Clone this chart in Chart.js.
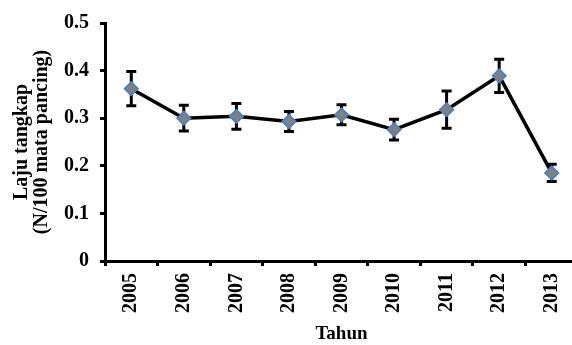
<!DOCTYPE html>
<html>
<head>
<meta charset="utf-8">
<script src="https://cdn.jsdelivr.net/npm/chart.js@4"></script>
<style>
    body { margin: 0; overflow: hidden; background: #fff; }
</style>
</head>
<body>
<canvas id="myChart" width="590" height="345"></canvas>
<script>
const years = ["2005", "2006", "2007", "2008", "2009", "2010", "2011", "2012", "2013"];
const lajuTangkap = [0.362, 0.300, 0.304, 0.293, 0.307, 0.276, 0.318, 0.389, 0.185];
const errorValues = [0.036, 0.027, 0.027, 0.021, 0.021, 0.022, 0.039, 0.035, 0.018];
const yTicks = [0, 0.1, 0.2, 0.3, 0.4, 0.5];

const fontFamily = "'Liberation Serif', 'Times New Roman', serif";

// error bars, drawn below the line and markers
const errorBars = {
    id: "errorBars",
    beforeDatasetsDraw(chart) {
        const ctx = chart.ctx;
        const xs = chart.scales.x;
        const ys = chart.scales.y;
        ctx.save();
        ctx.strokeStyle = "#000";
        ctx.lineWidth = 3;
        lajuTangkap.forEach((v, i) => {
            const x = xs.getPixelForValue(i);
            const top = ys.getPixelForValue(v + errorValues[i]);
            const bot = ys.getPixelForValue(v - errorValues[i]);
            ctx.beginPath();
            ctx.moveTo(x, top);
            ctx.lineTo(x, bot);
            ctx.moveTo(x - 5, top);
            ctx.lineTo(x + 5, top);
            ctx.moveTo(x - 5, bot);
            ctx.lineTo(x + 5, bot);
            ctx.stroke();
        });
        ctx.restore();
    }
};

const data = {
    labels: years,
    datasets: [
        {
            label: "Laju tangkap",
            data: lajuTangkap,
            borderColor: "#000",
            borderWidth: 3.5,
            tension: 0,
            pointStyle: "rectRot",
            pointRadius: 6.5,
            pointBackgroundColor: "#808080",
            pointBorderColor: "#4F81BD",
            pointBorderWidth: 2
        }
    ]
};

const config = {
    type: "line",
    data: data,
    plugins: [errorBars],
    options: {
        responsive: false,
        animation: false,
        devicePixelRatio: 1,
        layout: {
            padding: { top: 22, right: 12, left: 0, bottom: 0 }
        },
        plugins: {
            legend: { display: false },
            tooltip: { enabled: false }
        },
        scales: {
            x: {
                offset: true,
                afterFit(scale) { scale.height = 84; },
                grid: {
                    offset: true,
                    drawOnChartArea: false,
                    drawTicks: true,
                    tickLength: 5,
                    color: "#000",
                    lineWidth: 3
                },
                border: { color: "#000", width: 3 },
                ticks: {
                    autoSkip: false,
                    minRotation: 90,
                    maxRotation: 90,
                    padding: 7,
                    color: "#000",
                    font: { family: fontFamily, size: 20, weight: "bold" }
                },
                title: {
                    display: true,
                    text: "Tahun",
                    color: "#000",
                    padding: { top: 0, bottom: 0 },
                    font: { family: fontFamily, size: 19, weight: "bold" }
                }
            },
            y: {
                min: 0,
                max: 0.5,
                afterFit(scale) { scale.width = 105; },
                afterBuildTicks(scale) {
                    scale.ticks = yTicks.map(v => ({ value: v }));
                },
                grid: {
                    drawOnChartArea: false,
                    drawTicks: true,
                    tickLength: 5,
                    color: "#000",
                    lineWidth: 3
                },
                border: { color: "#000", width: 3 },
                ticks: {
                    padding: 11,
                    color: "#000",
                    font: { family: fontFamily, size: 20, weight: "bold" },
                    callback: (v) => v === 0 ? "0" : v.toFixed(1)
                },
                title: {
                    display: true,
                    text: ["Laju tangkap", "(N/100 mata pancing)"],
                    color: "#000",
                    padding: { top: 12, bottom: 0 },
                    font: { family: fontFamily, size: 20, weight: "bold", lineHeight: 1.0 }
                }
            }
        }
    }
};

const myChart = new Chart(document.querySelector("#myChart"), config);
</script>
</body>
</html>
